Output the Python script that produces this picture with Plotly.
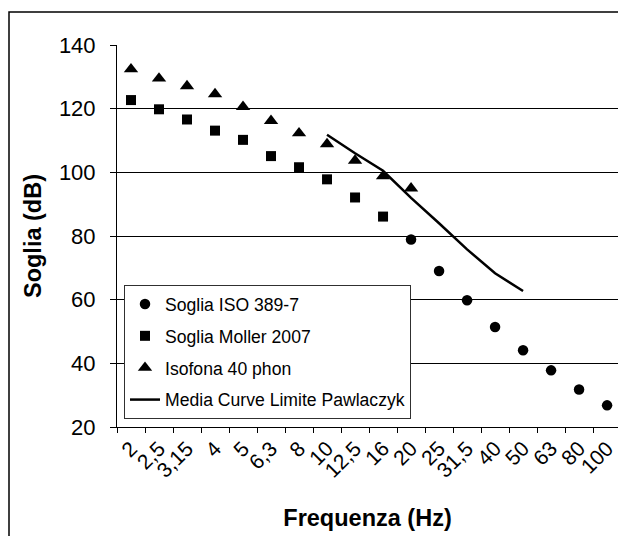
import plotly.graph_objects as go

categories = ["2", "2,5", "3,15", "4", "5", "6,3", "8", "10", "12,5", "16",
              "20", "25", "31,5", "40", "50", "63", "80", "100"]

iso_389_7 = [None, None, None, None, None, None, None, None, None, None,
             78.9, 69.0, 59.8, 51.4, 44.1, 37.8, 31.8, 26.8]
moller_2007 = [122.7, 119.8, 116.6, 113.1, 110.2, 105.1, 101.6, 97.8, 92.1, 86.1,
               None, None, None, None, None, None, None, None]
isofona_40 = [132.4, 129.5, 127.1, 124.6, 120.6, 116.2, 112.3, 108.9, 103.7, 98.8,
              95.0, None, None, None, None, None, None, None]
pawlaczyk = [None, None, None, None, None, None, None, 111.8, 106.0, 100.5,
             92.0, 84.0, 75.8, 68.3, 62.7, None, None, None]

y_ticks = [20, 40, 60, 80, 100, 120, 140]

FONT = "Liberation Sans, Arial, sans-serif"

W, H = 618, 536
L, T, B = 117, 45, 109
PW, PH = W - L, H - T - B

fig = go.Figure()
fig.add_trace(go.Scatter(x=categories, y=iso_389_7, mode="markers",
                         name="Soglia ISO 389-7", legendgroup="a",
                         marker=dict(symbol="circle", size=10.5, color="black")))
fig.add_trace(go.Scatter(x=categories, y=moller_2007, mode="markers",
                         name="Soglia Moller 2007", legendgroup="b",
                         marker=dict(symbol="square", size=10, color="black")))
fig.add_trace(go.Scatter(x=categories, y=isofona_40, mode="markers",
                         name="Isofona 40 phon", legendgroup="c",
                         marker=dict(symbol="triangle-up", size=12.5, color="black")))
fig.add_trace(go.Scatter(x=categories, y=pawlaczyk, mode="lines",
                         name="Media Curve Limite Pawlaczyk", legendgroup="d",
                         line=dict(color="black", width=2.5)))

# outer chart frame: only left and top edges are visible in the picture
fx0 = (9 - L) / PW
fy1 = (PH + T - 12) / PH
frame_path = f"M {fx0},-0.6 L {fx0},{fy1} L 1.3,{fy1}"

fig.update_layout(
    width=W, height=H, autosize=False,
    margin=dict(l=L, r=0, t=T, b=B, pad=0),
    paper_bgcolor="white", plot_bgcolor="white",
    font=dict(family=FONT, color="black", size=21),
    showlegend=True,
    legend=dict(x=(124 - L) / PW, y=(427 - 285) / PH, xanchor="left", yanchor="top",
                bgcolor="white", bordercolor="#303030", borderwidth=1,
                font=dict(family=FONT, size=17.6, color="black"),
                traceorder="grouped", tracegroupgap=6,
                itemwidth=30),
    xaxis=dict(type="category", categoryorder="array", categoryarray=categories,
               range=[-0.5, 17.39], tickson="boundaries",
               showgrid=False, showline=True, linecolor="black", linewidth=1,
               ticks="outside", ticklen=5, tickcolor="black", tickwidth=1,
               tickangle=-45, tickfont=dict(size=21),
               title=dict(text="<b>Frequenza (Hz)</b>", font=dict(size=23.5), standoff=28),
               zeroline=False, automargin=False),
    yaxis=dict(range=[20, 140], tickvals=y_ticks,
               showgrid=True, gridcolor="black", gridwidth=1,
               showline=True, linecolor="black", linewidth=1,
               ticks="outside", ticklen=6, tickcolor="black", tickwidth=1,
               tickfont=dict(size=22), ticklabelstandoff=10,
               title=dict(text="<b>Soglia (dB)</b>", font=dict(size=23.5), standoff=10),
               zeroline=False, automargin=False),
    shapes=[dict(type="path", xref="paper", yref="paper", path=frame_path,
                 line=dict(color="black", width=1.5), layer="below")],
)

fig.write_html(
    "out.html",
    config={"displayModeBar": False},
    post_script="document.body.style.margin='0';document.body.style.overflow='hidden';",
)
